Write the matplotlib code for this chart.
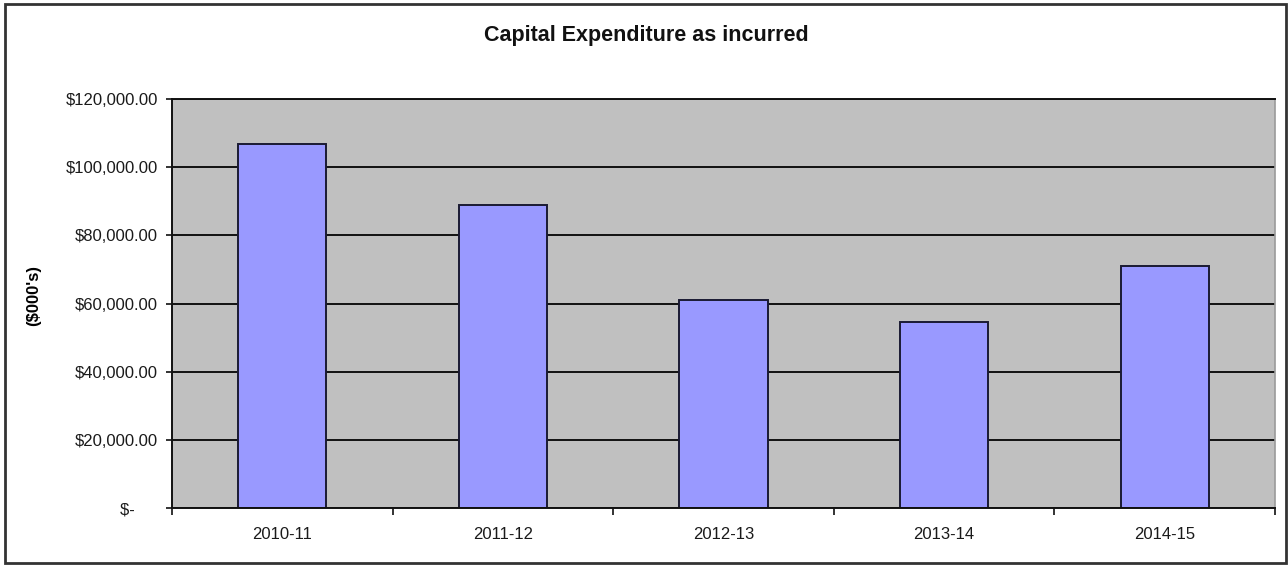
import matplotlib.pyplot as plt
from matplotlib.patches import Rectangle

plt.rcParams['font.family'] = ['Liberation Sans', 'DejaVu Sans']

# Capital expenditure by financial year ($000's)
years = ['2010-11', '2011-12', '2012-13', '2013-14', '2014-15']
spend = [106800, 88900, 61000, 54700, 71000]
yticks = [0, 20000, 40000, 60000, 80000, 100000, 120000]


def money(v):
    if v == 0:
        return '$-     '
    return '${:,.2f}'.format(v)


fig = plt.figure(figsize=(12.88, 5.66), dpi=100)
ax = fig.add_axes([172 / 1288, 1 - 508 / 566, (1275 - 172) / 1288, (508 - 99) / 566])

ax.set_facecolor('#c0c0c0')
ax.set_axisbelow(True)
ax.yaxis.grid(True, color='#111111', linewidth=1.4)

x = list(range(len(years)))
ax.bar(x, spend, width=0.40, color='#9999ff', edgecolor='#1a1a33', linewidth=1.4)

ax.set_xlim(-0.5, len(years) - 0.5)
ax.set_ylim(0, 120000)

ax.set_yticks(yticks)
ax.set_yticklabels([money(v) for v in yticks])
ax.tick_params(axis='y', direction='out', length=4, width=1.2, colors='#111111',
               labelsize=12, labelcolor='#1a1a1a', pad=6)

# category labels at the centres, tick marks between categories
ax.set_xticks(x)
ax.set_xticklabels(years)
ax.set_xticks([i - 0.5 for i in range(len(years) + 1)], minor=True)
ax.tick_params(axis='x', which='major', length=0, labelsize=12, labelcolor='#1a1a1a', pad=14)
ax.tick_params(axis='x', which='minor', direction='out', length=5, width=1.2, colors='#111111')

for side in ['top', 'right']:
    ax.spines[side].set_visible(False)
ax.spines['left'].set_color('#111111')
ax.spines['left'].set_linewidth(1.4)
ax.spines['bottom'].set_color('#111111')
ax.spines['bottom'].set_linewidth(1.4)
ax.plot([1, 1], [0, 1], transform=ax.transAxes, color='#9a9a9a', linewidth=1.2, clip_on=False)
ax.plot([0, 1], [1, 1], transform=ax.transAxes, color='#111111', linewidth=1.4, clip_on=False)

ax.set_ylabel("($000's)", fontsize=12, fontweight='bold', labelpad=0)
ax.yaxis.set_label_coords(-131 / 1103, 0.52)

fig.text(0.5 * (486 + 806) / 1288, 1 - 35 / 566, 'Capital Expenditure as incurred',
         ha='center', va='center', fontsize=15.5, fontweight='bold', color='#111111')

# chart border
fig.patches.append(Rectangle((5 / 1288, 1 - 563 / 566), (1286 - 5) / 1288, (563 - 4) / 566,
                             transform=fig.transFigure, fill=False,
                             edgecolor='#333333', linewidth=2))

fig.savefig('out.png', dpi=100)
